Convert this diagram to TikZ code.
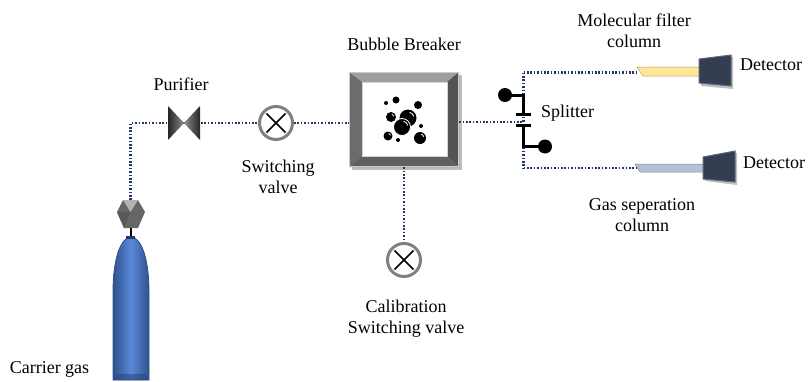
\documentclass[tikz,border=0pt]{standalone}
\usepackage{fontspec}
\setmainfont{Liberation Serif}
\usetikzlibrary{calc}
\definecolor{pipecol}{HTML}{1F3864}
\definecolor{ringgray}{HTML}{808080}
\definecolor{detfill}{HTML}{333F50}
\definecolor{detedge}{HTML}{5B6A80}
\definecolor{gasblue}{HTML}{4472C4}
\definecolor{gasdark}{HTML}{2F528F}
\definecolor{gaslight}{HTML}{5A88D8}
\definecolor{molcol}{HTML}{FFE699}
\definecolor{sepcol}{HTML}{B4C0D4}
\tikzset{
  pipe/.style={draw=pipecol, line width=2.2pt, dash pattern=on 1.6pt off 1.8pt},
  lbl/.style={font=\fontsize{18}{21}\selectfont, align=center, inner sep=0pt},
  valvenode/.style={circle, draw=ringgray, line width=3pt, fill=white,
    minimum size=33pt, inner sep=0pt},
  cross/.style={draw=black, line width=1.5pt},
  splitline/.style={draw=black, line width=3pt},
  detector/.style={fill=detfill, draw=detedge, line width=1pt},
  bubble/.style={fill=black},
  shine/.style={draw=white, line width=0.8pt},
}
\begin{document}
\begin{tikzpicture}[x=1pt, y=-1pt]
\useasboundingbox (0,0) rectangle (809,381);

% ---------- carrier gas cylinder ----------
\shade[left color=gasdark, right color=gasdark, middle color=gaslight]
  (113,380) -- (113,292) .. controls (113,255) and (122,237) .. (131,237)
  .. controls (140,237) and (149,255) .. (149,292) -- (149,380) -- cycle;
\draw[gasdark, line width=0.8pt]
  (113,380) -- (113,292) .. controls (113,255) and (122,237) .. (131,237)
  .. controls (140,237) and (149,255) .. (149,292) -- (149,380) -- cycle;
\fill[gasdark!80!black, opacity=0.5] (113,380) -- (117,374) -- (145,374) -- (149,380) -- cycle;
\draw[black, line width=2pt] (130.5,228) -- (130.5,238);
\fill[pipecol] (126,236) rectangle (135,239);
% cylinder valve head
\fill[gray!80!black] (123,200) -- (138,200) -- (145,212) -- (138,228) -- (124,228) -- (117,212) -- cycle;
\fill[gray!60] (123,200) -- (138,200) -- (130.5,212) -- cycle;
\fill[gray!70!black] (117,212) -- (124,228) -- (130.5,212) -- cycle;
\coordinate (head) at (130.5,200);
\node[lbl] (carrier) at (49.5,369) {Carrier gas};

% ---------- purifier ----------
\coordinate (pur) at (184,123);
\coordinate (bend) at (130.5,123);
\draw[pipe] (head) -- (bend) -- (pur);

% ---------- switching valve ----------
\node[valvenode] (sv) at (276,123) {};
\draw[pipe] (pur) -- (sv);
\node[lbl] (svlabel) at (278,177) {Switching\\valve};

% purifier body drawn over its pipe
\shade[left color=black!85, right color=black!45]
  (168,106) -- (184,123) -- (168,140) -- cycle;
\shade[left color=black!45, right color=black!85]
  (200,106) -- (184,123) -- (200,140) -- cycle;
\node[lbl] (purlabel) at (181,84) {Purifier};

% ---------- bubble breaker ----------
\node[minimum width=110pt, minimum height=95pt, inner sep=0pt] (bb) at (404,119.5) {};
\draw[pipe] (sv) -- (bb.west |- sv);
\fill[black, opacity=0.25] (352,75) rectangle (462,170);
\fill[gray!75] (349,72) -- (459,72) -- (447,82) -- (362,82) -- cycle;
\fill[gray!85!black] (349,72) -- (362,82) -- (362,156) -- (349,167) -- cycle;
\fill[gray!65!black] (459,72) -- (459,167) -- (447,156) -- (447,82) -- cycle;
\fill[gray!75!black] (349,167) -- (459,167) -- (447,156) -- (362,156) -- cycle;
\draw[gray!40, line width=0.8pt] (349.5,72.5) rectangle (458.5,166.5);
\draw[gray!35, line width=0.8pt] (362,82) rectangle (447,156);
\fill[white] (362.5,82.5) rectangle (446.5,155.5);
\node[lbl] (bblabel) at (404,44) {Bubble Breaker};

% bubbles
\fill[bubble] (386,103) circle (2);
\fill[bubble] (396,100) circle (3.5);
\fill[bubble] (418,105) circle (4);
\fill[bubble] (391,117) circle (5);
\fill[bubble] (421,126) circle (2);
\fill[bubble] (398,140) circle (2);
\fill[bubble] (388,136) circle (4.5);
\fill[bubble] (420,138) circle (6);
\fill[bubble] (408,118) circle (8.5);
\draw[shine] (408,118) ++(-15:6) arc (-15:-75:6);
\fill[bubble, draw=white, line width=0.8pt] (402,127) circle (8.5);
\draw[shine] (402,127) ++(-15:6) arc (-15:-75:6);
\draw[shine] (391,117) ++(-15:3.2) arc (-15:-75:3.2);
\draw[shine] (420,138) ++(-15:4) arc (-15:-75:4);
\draw[shine] (388,136) ++(-15:2.8) arc (-15:-75:2.8);

% ---------- calibration valve ----------
\node[valvenode] (cv) at (404,260) {};
\draw[pipe] (bb.south) -- (cv);
\node[lbl] (cvlabel) at (406,319) {Calibration\\Switching valve};

% crosses of both valves
\foreach \v in {sv,cv}{
  \draw[cross] ($(\v.center)+(45:13.5)$) -- ($(\v.center)+(225:13.5)$);
  \draw[cross] ($(\v.center)+(135:13.5)$) -- ($(\v.center)+(315:13.5)$);
}

% ---------- splitter ----------
\coordinate (sp) at (523.5,122);
\coordinate (sptop) at (523.5,72.5);
\coordinate (spbot) at (523.5,168);
\draw[pipe] (bb.east |- sp) -- (sp);
\draw[pipe] (sptop) -- (spbot);
\draw[splitline] (505,95) -- (523.5,95) -- (523.5,114);
\draw[splitline] (516,114) -- (531,114);
\draw[splitline] (516,125) -- (531,125);
\draw[splitline] (523.5,125) -- (523.5,146.5) -- (545,146.5);
\fill[black] (505,95) circle (7);
\fill[black] (545,146.5) circle (7);
\node[lbl, anchor=west] (splabel) at (541,113) {Splitter};

% ---------- molecular filter column + detector ----------
\coordinate (molin) at (638,72.5);
\draw[pipe] (sptop) -- (molin);
\fill[molcol] (637,67) -- (701,67) -- (701,76) -- (643,76) -- cycle;
\draw[molcol!70!black, line width=0.5pt] (637,67) -- (701,67) (701,76) -- (643,76) -- (637,67);
\fill[black, opacity=0.25] (701,61) -- (733,57) -- (733,89) -- (701,86) -- cycle;
\draw[detector] (699,59) -- (731,55) -- (731,86) -- (699,83) -- cycle;
\node[lbl, anchor=west] (det1) at (740,65) {Detector};
\node[lbl] (mollabel) at (634,31) {Molecular filter\\column};

% ---------- gas separation column + detector ----------
\coordinate (sepin) at (636,168);
\draw[pipe] (spbot) -- (sepin);
\fill[sepcol] (635,164) -- (705,164) -- (705,172) -- (640,172) -- cycle;
\draw[sepcol!70!black, line width=0.5pt] (635,164) -- (705,164) (705,172) -- (640,172) -- (635,164);
\fill[black, opacity=0.25] (705,159) -- (737,153) -- (737,185) -- (705,181) -- cycle;
\draw[detector] (703,157) -- (735,151) -- (735,182) -- (703,179) -- cycle;
\node[lbl, anchor=west] (det2) at (743,163) {Detector};
\node[lbl] (seplabel) at (642,215) {Gas seperation\\column};
\end{tikzpicture}
\end{document}
